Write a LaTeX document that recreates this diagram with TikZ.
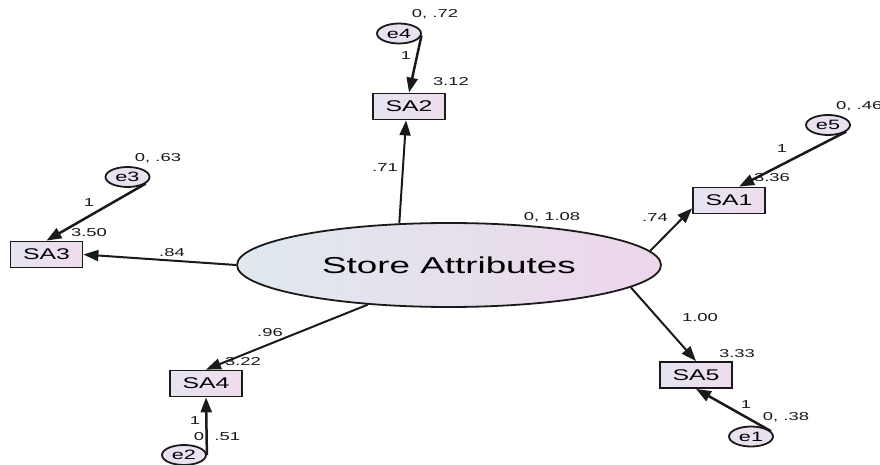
\documentclass[tikz,border=0pt]{standalone}
\usepackage{fontspec}
\setmainfont{Liberation Sans}
\usetikzlibrary{arrows.meta,shapes.geometric}

% AMOS-style output: all lettering is set wide
\newcommand{\wtext}[1]{\scalebox{1.6}[1]{#1}}

\definecolor{boxL}{HTML}{E6E4F1}
\definecolor{boxR}{HTML}{EEDCEC}
\definecolor{latL}{HTML}{DFE9EE}
\definecolor{latR}{HTML}{EDD6EA}
\definecolor{errF}{HTML}{E9E0F0}
\definecolor{ink}{HTML}{1A1A1A}

\tikzset{
  obsbox/.style={rectangle, draw=ink, line width=1.8pt, left color=boxL, right color=boxR,
    minimum width=72pt, minimum height=26pt, inner sep=0pt,
    font=\fontsize{15.5}{15.5}\selectfont},
  errnode/.style={ellipse, draw=ink, line width=1.8pt, fill=errF,
    minimum width=44pt, minimum height=20pt, inner sep=0pt,
    font=\fontsize{13.5}{13.5}\selectfont},
  latnode/.style={ellipse, draw=ink, line width=1.8pt, left color=latL, right color=latR,
    minimum width=424pt, minimum height=84pt, inner sep=0pt,
    font=\fontsize{23}{23}\selectfont},
  numlab/.style={inner sep=0pt, text=ink, font=\fontsize{11.5}{11.5}\selectfont},
  loadarrow/.style={draw=ink, line width=2pt, -{Triangle[length=15pt,width=11pt]}},
  errarrow/.style={draw=ink, line width=2.5pt, -{Triangle[length=15pt,width=11pt]}}
}

\begin{document}
\begin{tikzpicture}[x=1pt,y=-1pt]
  \fill[white] (0,0) rectangle (880,465);
  \useasboundingbox (0,0) rectangle (880,465);

  % latent factor
  \node[latnode] (F) at (449,265) {\wtext{Store Attributes}};

  % indicators
  \node[obsbox] (SA2) at (409,106.5) {\wtext{SA2}};
  \node[obsbox] (SA1) at (729,200.5) {\wtext{SA1}};
  \node[obsbox] (SA3) at (46.5,254.5) {\wtext{SA3}};
  \node[obsbox] (SA4) at (206,383.5) {\wtext{SA4}};
  \node[obsbox] (SA5) at (696,375) {\wtext{SA5}};

  % error terms
  \node[errnode] (e4) at (399,33.5) {\wtext{e4}};
  \node[errnode] (e5) at (828,125) {\wtext{e5}};
  \node[errnode] (e3) at (127.5,177) {\wtext{e3}};
  \node[errnode] (e2) at (184,455) {\wtext{e2}};
  \node[errnode] (e1) at (751,436.5) {\wtext{e1}};

  % estimates
  \node[numlab] (v4)  at (435,14)  {\wtext{0, .72}};
  \node[numlab] (w4)  at (406,56)  {\wtext{1}};
  \node[numlab] (i2)  at (451,82)  {\wtext{3.12}};
  \node[numlab] (l2)  at (385,168) {\wtext{.71}};
  \node[numlab, anchor=west] (v5) at (836,106) {\wtext{0, .46}};
  \node[numlab] (w5)  at (782,149) {\wtext{1}};
  \node[numlab] (i1)  at (772,178) {\wtext{3.36}};
  \node[numlab] (l1)  at (655,218) {\wtext{.74}};
  \node[numlab] (vF)  at (552,217) {\wtext{0, 1.08}};
  \node[numlab] (v3)  at (158,158) {\wtext{0, .63}};
  \node[numlab] (w3)  at (89,203)  {\wtext{1}};
  \node[numlab] (i3)  at (89,233)  {\wtext{3.50}};
  \node[numlab] (l3)  at (172,253) {\wtext{.84}};
  \node[numlab] (l4)  at (270,333) {\wtext{.96}};
  \node[numlab] (i4)  at (243,362) {\wtext{3.22}};
  \node[numlab] (w2)  at (195,421) {\wtext{1}};
  \node[numlab] (v2)  at (217,437) {\wtext{0, .51}};
  \node[numlab] (l5)  at (700,318) {\wtext{1.00}};
  \node[numlab] (i5)  at (737,354) {\wtext{3.33}};
  \node[numlab] (w1)  at (746,405) {\wtext{1}};
  \node[numlab] (v1)  at (786,417) {\wtext{0, .38}};

  % factor loadings
  \draw[loadarrow] (F.140.5) -- (SA2.-102);
  \draw[loadarrow] (F.4.9)   -- (SA1.192);
  \draw[loadarrow] (F.180)   -- (SA3.east);
  \draw[loadarrow] (F.206)   -- (SA4.north);
  \draw[loadarrow] (F.-7)    -- (SA5.north);

  % error paths
  \draw[errarrow] (e4.-5)  -- (SA2.north);
  \draw[errarrow] (e5.-20) -- (SA1.54);
  \draw[errarrow] (e3.-20) -- (SA3.north);
  \draw[errarrow] (e2.east) -- (SA4.south);
  \draw[errarrow] (e1.15)  -- (SA5.south);
\end{tikzpicture}
\end{document}
